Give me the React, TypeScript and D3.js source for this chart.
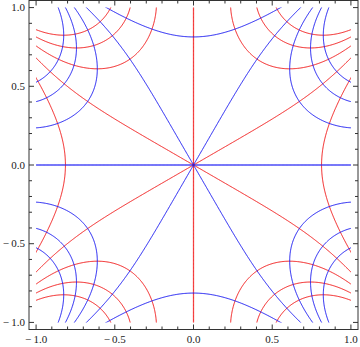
import React, { useMemo } from "react";
import * as d3 from "d3";

// Contour levels for Re f (red) and Im f (blue), f(z) = z·sin(z²)
const redLevels = [-1.5, -1, -0.5, 0, 0.5, 1, 1.5];
const blueLevels = [-1.5, -1, -0.5, 0, 0.5, 1, 1.5];

// Frame ticks
const majorTicks = [-1, -0.5, 0, 0.5, 1];
const majorLabels = ["\u2212\u20091.0", "\u2212\u20090.5", "0.0", "0.5", "1.0"];
const minorTicks = [
  -0.9, -0.8, -0.7, -0.6, -0.4, -0.3, -0.2, -0.1,
  0.1, 0.2, 0.3, 0.4, 0.6, 0.7, 0.8, 0.9,
];

const plotDomain: [number, number] = [-1, 1];
const frameDomain: [number, number] = [-1.045, 1.045];

const W = 360;
const H = 347;

function f(xx: number, yy: number): [number, number] {
  const a = xx * xx - yy * yy;
  const b = 2 * xx * yy;
  const S = Math.sin(a) * Math.cosh(b);
  const T = Math.cos(a) * Math.sinh(b);
  return [xx * S - yy * T, xx * T + yy * S];
}

export default function App() {
  const x = d3.scaleLinear().domain(frameDomain).range([29, 358]);
  const y = d3.scaleLinear().domain(frameDomain).range([329.5, 0.5]);

  const grid = useMemo(() => {
    const n = 440;
    const g0 = -1.1;
    const h = 2.2 / (n - 1);
    const re: number[] = new Array(n * n);
    const im: number[] = new Array(n * n);
    for (let j = 0; j < n; j++) {
      const yy = -g0 - j * h;
      for (let i = 0; i < n; i++) {
        const xx = g0 + i * h;
        const [r, m] = f(xx, yy);
        re[j * n + i] = r;
        im[j * n + i] = m;
      }
    }
    return { re, im, n, g0, h };
  }, []);

  const { re, im, n, g0, h } = grid;
  const proj = d3.geoTransform({
    point(u: number, v: number) {
      (this as any).stream.point(x(g0 + (u - 0.5) * h), y(-g0 - (v - 0.5) * h));
    },
  });
  const path = d3.geoPath(proj as any);
  const gen = d3.contours().size([n, n]);

  const redPaths = redLevels.map((c) => path(gen.contour(re, c) as any) || "");
  const bluePaths = blueLevels.map((c) => path(gen.contour(im, c) as any) || "");

  const x0 = x(plotDomain[0]);
  const x1 = x(plotDomain[1]);
  const y0 = y(plotDomain[1]);
  const y1 = y(plotDomain[0]);

  const fl = x(frameDomain[0]);
  const fr = x(frameDomain[1]);
  const ft = y(frameDomain[1]);
  const fb = y(frameDomain[0]);

  const majLen = 5;
  const minLen = 3;
  const tickColor = "#333";
  const font = "'Liberation Serif', 'DejaVu Serif', Times, serif";

  return (
    <svg
      width={W}
      height={H}
      style={{ position: "absolute", left: 0, top: 0, background: "#fff" }}
    >
      <defs>
        <clipPath id="plotclip">
          <rect x={x0} y={y0} width={x1 - x0} height={y1 - y0} />
        </clipPath>
      </defs>
      <g clipPath="url(#plotclip)">
        {/* zero-level contours lying on the axes (drawn softer like the original) */}
        <line x1={x0} x2={x1} y1={y(0)} y2={y(0)} stroke="#5a5aff" strokeOpacity={0.35} strokeWidth={2.2} />
        <line x1={x(0)} x2={x(0)} y1={y0} y2={y1} stroke="#ff5a5a" strokeOpacity={0.3} strokeWidth={2} />
        {redPaths.map((d, i) => (
          <path key={"r" + i} d={d} fill="none" stroke="#f01c1c" strokeWidth={1} />
        ))}
        {bluePaths.map((d, i) => (
          <path key={"b" + i} d={d} fill="none" stroke="#1c1cf0" strokeWidth={1} />
        ))}
      </g>
      {/* frame */}
      <rect x={fl} y={ft} width={fr - fl} height={fb - ft} fill="none" stroke={tickColor} strokeWidth={1} />
      {/* ticks */}
      {majorTicks.concat(minorTicks).map((t, i) => {
        const len = i < majorTicks.length ? majLen : minLen;
        const px = x(t);
        const py = y(t);
        return (
          <g key={"t" + i} stroke={tickColor} strokeWidth={1}>
            <line x1={px} x2={px} y1={fb} y2={fb - len} />
            <line x1={px} x2={px} y1={ft} y2={ft + len} />
            <line x1={fl} x2={fl + len} y1={py} y2={py} />
            <line x1={fr} x2={fr - len} y1={py} y2={py} />
          </g>
        );
      })}
      {/* labels */}
      {majorTicks.map((t, i) => (
        <text
          key={"xl" + i}
          x={x(t)}
          y={342.5}
          textAnchor="middle"
          fontFamily={font}
          fontSize={11}
          fill="#222"
        >
          {majorLabels[i]}
        </text>
      ))}
      {majorTicks.map((t, i) => (
        <text
          key={"yl" + i}
          x={25}
          y={y(t) + 3.6}
          textAnchor="end"
          fontFamily={font}
          fontSize={11}
          fill="#222"
        >
          {majorLabels[i]}
        </text>
      ))}
    </svg>
  );
}
